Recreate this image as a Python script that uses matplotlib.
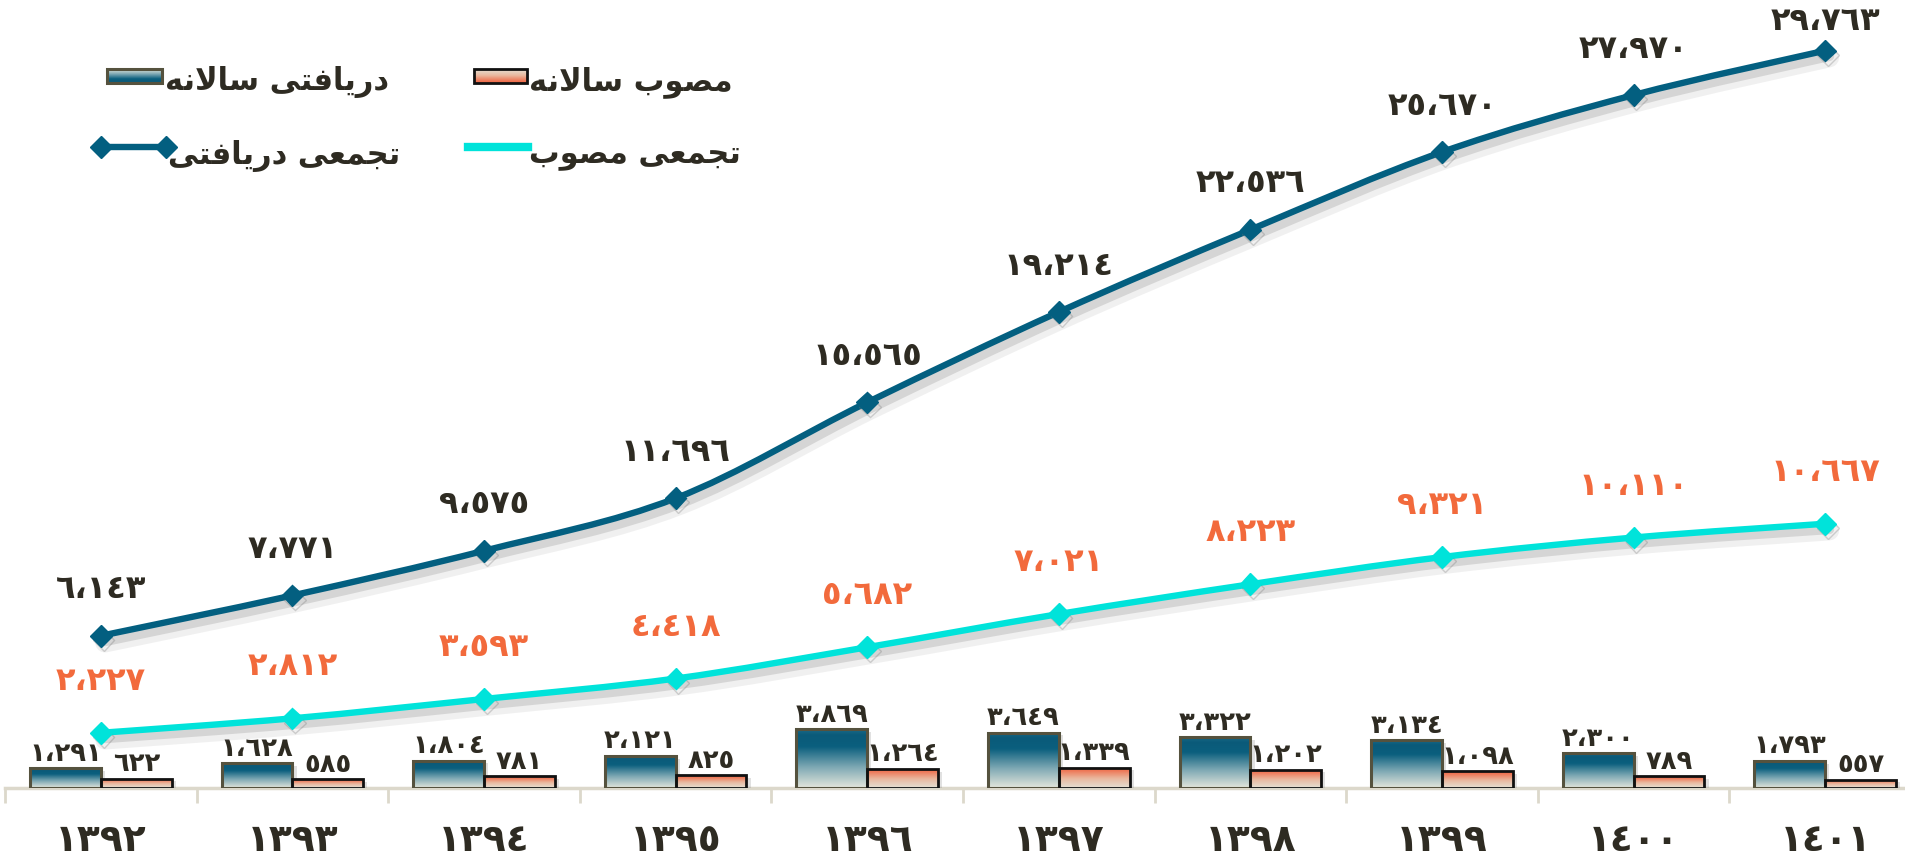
import numpy as np
import matplotlib
matplotlib.use("Agg")
import matplotlib.pyplot as plt
from matplotlib.colors import LinearSegmentedColormap
from matplotlib.patches import Rectangle, PathPatch
from matplotlib.path import Path
import matplotlib.patheffects as pe

# ---------------- data ----------------
years = ["١٣٩٢", "١٣٩٣", "١٣٩٤", "١٣٩٥", "١٣٩٦", "١٣٩٧", "١٣٩٨", "١٣٩٩", "١٤٠٠", "١٤٠١"]
received_annual = [1291, 1628, 1804, 2121, 3869, 3649, 3322, 3134, 2300, 1793]
approved_annual = [622, 585, 781, 825, 1264, 1339, 1202, 1098, 789, 557]
received_cum = [6143, 7771, 9575, 11696, 15565, 19214, 22536, 25670, 27970, 29763]
approved_cum = [2227, 2812, 3593, 4418, 5682, 7021, 8223, 9321, 10110, 10667]
legend_labels = ["دریافتی سالانه", "مصوب سالانه", "تجمعی دریافتی", "تجمعی مصوب"]

# ---------------- helpers ----------------
AR_DIGITS = str.maketrans("0123456789,", "٠١٢٣٤٥٦٧٨٩،")


def fa_num(v):
    return f"{v:,}".translate(AR_DIGITS)


# presentation forms: isolated, final, initial, medial
FORMS = {
    "ا": ("\uFE8D", "\uFE8E", None, None),
    "ب": ("\uFE8F", "\uFE90", "\uFE91", "\uFE92"),
    "ت": ("\uFE95", "\uFE96", "\uFE97", "\uFE98"),
    "ج": ("\uFE9D", "\uFE9E", "\uFE9F", "\uFEA0"),
    "د": ("\uFEA9", "\uFEAA", None, None),
    "ر": ("\uFEAD", "\uFEAE", None, None),
    "س": ("\uFEB1", "\uFEB2", "\uFEB3", "\uFEB4"),
    "ص": ("\uFEB9", "\uFEBA", "\uFEBB", "\uFEBC"),
    "ع": ("\uFEC9", "\uFECA", "\uFECB", "\uFECC"),
    "ف": ("\uFED1", "\uFED2", "\uFED3", "\uFED4"),
    "ل": ("\uFEDD", "\uFEDE", "\uFEDF", "\uFEE0"),
    "م": ("\uFEE1", "\uFEE2", "\uFEE3", "\uFEE4"),
    "ن": ("\uFEE5", "\uFEE6", "\uFEE7", "\uFEE8"),
    "ه": ("\uFEE9", "\uFEEA", "\uFEEB", "\uFEEC"),
    "و": ("\uFEED", "\uFEEE", None, None),
    "ی": ("\uFBFC", "\uFBFD", "\uFBFE", "\uFBFF"),
}


def joins_left(c):
    return c in FORMS and FORMS[c][2] is not None


def shape(s):
    out = []
    i = 0
    n = len(s)
    while i < n:
        c = s[i]
        if c not in FORMS:
            out.append(c)
            i += 1
            continue
        prev = s[i - 1] if i > 0 else ""
        con_prev = joins_left(prev)
        if c == "ل" and i + 1 < n and s[i + 1] == "ا":
            out.append("\uFEFC" if con_prev else "\uFEFB")
            i += 2
            continue
        nxt = s[i + 1] if i + 1 < n else ""
        con_next = joins_left(c) and nxt in FORMS
        iso, fin, ini, med = FORMS[c]
        if con_prev and con_next:
            out.append(med)
        elif con_prev:
            out.append(fin)
        elif con_next:
            out.append(ini)
        else:
            out.append(iso)
        i += 1
    return "".join(reversed(out))


def smooth_path(xs, ys):
    pts = np.column_stack([xs, ys]).astype(float)
    verts = [pts[0]]
    codes = [Path.MOVETO]
    m = len(pts)
    for k in range(m - 1):
        p0 = pts[k - 1] if k > 0 else pts[k]
        p1 = pts[k]
        p2 = pts[k + 1]
        p3 = pts[k + 2] if k + 2 < m else pts[k + 1]
        c1 = p1 + (p2 - p0) / 6.0
        c2 = p2 - (p3 - p1) / 6.0
        verts += [c1, c2, p2]
        codes += [Path.CURVE4] * 3
    return Path(verts, codes)


# ---------------- style ----------------
FONT = ["DejaVu Sans"]
plt.rcParams["font.family"] = FONT
plt.rcParams["font.weight"] = "bold"

DARK_TEXT = "#2e2b22"
ORANGE_TXT = "#f26a3c"
DARK_LINE = "#035f80"
CYAN = "#00e3da"

teal_cmap = LinearSegmentedColormap.from_list(
    "teal", [(0.0, "#e4e6dc"), (0.35, "#7fa9b4"), (0.7, "#0b5f7e"), (0.9, "#0a5a79"), (1.0, "#1b6a88")])
orange_cmap = LinearSegmentedColormap.from_list(
    "orng", [(0.0, "#e4e0d4"), (0.45, "#e9b9a0"), (0.85, "#ee7453"), (1.0, "#ef6848")])

W, H = 1905, 863
fig = plt.figure(figsize=(W / 100, H / 100), dpi=100)

ax_left_px, ax_right_px = 5, 1921
ax_bottom_px, ax_top_px = 788, 20
ax = fig.add_axes([ax_left_px / W, 1 - ax_bottom_px / H,
                   (ax_right_px - ax_left_px) / W, (ax_bottom_px - ax_top_px) / H])
ax2 = ax.twinx()

n = len(years)
x = np.arange(n)
bw = 0.37

ax.set_xlim(-0.5, n - 0.5)
ax.set_ylim(0, 50500)
ax2.set_ylim(0, 31000)

grad = np.linspace(0, 1, 256).reshape(-1, 1)


def gradient_bar(axis, x0, width, height, cmap, edge, lw):
    rect = Rectangle((x0, 0), width, height, facecolor="none", edgecolor=edge,
                     linewidth=lw, zorder=3)
    shadow = Rectangle((x0, 0), width, height, facecolor="none", edgecolor="none", zorder=1,
                       path_effects=[pe.SimplePatchShadow(offset=(3, -2), shadow_rgbFace="#888888", alpha=0.25)])
    axis.add_patch(shadow)
    axis.add_patch(rect)
    im = axis.imshow(grad, cmap=cmap, aspect="auto", origin="lower",
                     extent=(x0, x0 + width, 0, height), zorder=2, interpolation="bicubic")
    im.set_clip_path(rect)


for i in range(n):
    gradient_bar(ax, x[i] - bw, bw, received_annual[i], teal_cmap, "#55523e", 2.2)
    gradient_bar(ax, x[i], bw, approved_annual[i], orange_cmap, "#111111", 2.0)
    ax.annotate(fa_num(received_annual[i]), (x[i] - bw / 2, received_annual[i]),
                xytext=(0, 1), textcoords="offset points", ha="center", va="bottom",
                fontsize=18.5, fontweight="bold", color=DARK_TEXT, zorder=5)
    ax.annotate(fa_num(approved_annual[i]), (x[i] + bw / 2, approved_annual[i]),
                xytext=(0, 1), textcoords="offset points", ha="center", va="bottom",
                fontsize=18.5, fontweight="bold", color=DARK_TEXT, zorder=5)

ax.set_aspect("auto")
ax.set_xlim(-0.5, n - 0.5)
ax.set_ylim(0, 50500)

# lines
shadow_fx = [pe.SimpleLineShadow(offset=(3, -5), shadow_color="#888888", alpha=0.12, linewidth=14),
             pe.SimpleLineShadow(offset=(3, -4), shadow_color="#777777", alpha=0.22, linewidth=7),
             pe.Normal()]
for vals, col in ((received_cum, DARK_LINE), (approved_cum, CYAN)):
    pp = PathPatch(smooth_path(x, vals), facecolor="none", edgecolor=col, linewidth=4.6,
                   capstyle="round", joinstyle="round", zorder=4, path_effects=shadow_fx)
    ax2.add_patch(pp)
    ax2.plot(x, vals, linestyle="none", marker="D", markersize=11, color=col, zorder=5,
             path_effects=[pe.SimpleLineShadow(offset=(2, -3), shadow_color="#777777", alpha=0.3), pe.Normal()])

for i in range(n):
    ax2.annotate(fa_num(received_cum[i]), (x[i], received_cum[i]),
                 xytext=(0, (21 if i == n - 1 else 33)), textcoords="offset points",
                 ha="center", va="center", fontsize=23, fontweight="bold", color=DARK_TEXT, zorder=6)
    ax2.annotate(fa_num(approved_cum[i]), (x[i], approved_cum[i]),
                 xytext=(0, 37), textcoords="offset points",
                 ha="center", va="center", fontsize=23, fontweight="bold", color=ORANGE_TXT, zorder=6)

# axes styling
for a in (ax, ax2):
    for s in ("top", "right", "left"):
        a.spines[s].set_visible(False)
    a.set_yticks([])
ax2.spines["bottom"].set_visible(False)
ax.spines["bottom"].set_color("#dcd8cb")
ax.spines["bottom"].set_linewidth(2.5)
ax.spines["bottom"].set_zorder(0)
ax.set_xticks(x)
ax.set_xticklabels(years, fontsize=27, fontweight="bold", color=DARK_TEXT)
ax.tick_params(axis="x", which="major", length=0, pad=25)
ax.set_xticks(np.arange(-0.5, n, 1.0), minor=True)
ax.tick_params(axis="x", which="minor", length=11, width=2, color="#dcd8cb")
ax2.tick_params(axis="x", length=0, labelbottom=False)

# ---------------- legend (manual, RTL) ----------------
lax = fig.add_axes([0, 0, 1, 1], facecolor="none")
lax.set_xlim(0, W)
lax.set_ylim(H, 0)
lax.axis("off")

sw1 = Rectangle((107, 69), 55, 14, facecolor="none", edgecolor="#55523e", linewidth=2.2, zorder=3)
lax.add_patch(sw1)
im1 = lax.imshow(grad, cmap=teal_cmap, aspect="auto", origin="upper", extent=(107, 162, 83, 69), zorder=2)
im1.set_clip_path(sw1)
sw2 = Rectangle((474, 69), 53, 14, facecolor="none", edgecolor="#111111", linewidth=2.0, zorder=3)
lax.add_patch(sw2)
im2 = lax.imshow(grad, cmap=orange_cmap, aspect="auto", origin="upper", extent=(474, 527, 83, 69), zorder=2)
im2.set_clip_path(sw2)
lax.set_xlim(0, W)
lax.set_ylim(H, 0)

lax.plot([101, 166], [147, 147], color=DARK_LINE, linewidth=4.6, marker="D", markersize=11)
lax.plot([468, 528], [147, 147], color=CYAN, linewidth=6)

leg_kw = dict(fontsize=22, fontweight="bold", color=DARK_TEXT, va="center", ha="left")
lax.text(165, 82, shape(legend_labels[0]), **leg_kw)
lax.text(529, 82, shape(legend_labels[1]), **leg_kw)
lax.text(168, 156, shape(legend_labels[2]), **leg_kw)
lax.text(529, 156, shape(legend_labels[3]), **leg_kw)

fig.savefig("out.png", dpi=100)
